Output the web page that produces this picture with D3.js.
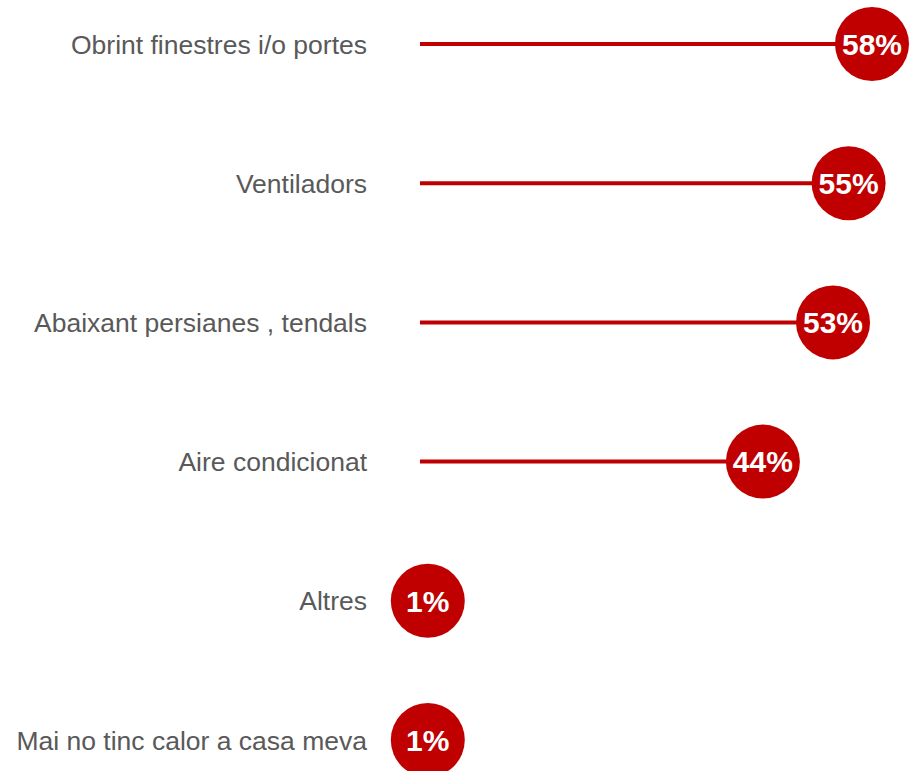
<!DOCTYPE html>
<html><head><meta charset="utf-8">
<script src="https://cdn.jsdelivr.net/npm/d3@7"></script>
<style>body{margin:0;background:#fff}svg{display:block}</style>
</head><body>
<svg id="c" width="912" height="771"></svg>
<script>
const categories = ["Obrint finestres i/o portes","Ventiladors","Abaixant persianes , tendals","Aire condicionat","Altres","Mai no tinc calor a casa meva"];
const values = [58,55,53,44,1,1];

const svg = d3.select("#c");
const x = d3.scaleLinear().domain([0,58]).range([420,872]);
const y = d3.scalePoint().domain(categories).range([44,740]);
const red = "#c00000";

svg.selectAll("line.stem").data(values).join("line")
  .attr("class","stem")
  .attr("x1",x(0)).attr("x2",d=>x(d))
  .attr("y1",(d,i)=>y(categories[i])).attr("y2",(d,i)=>y(categories[i]))
  .attr("stroke",red).attr("stroke-width",4);

svg.selectAll("circle").data(values).join("circle")
  .attr("cx",d=>x(d)).attr("cy",(d,i)=>y(categories[i])).attr("r",37)
  .attr("fill",red);

svg.selectAll("text.val").data(values).join("text")
  .attr("class","val")
  .attr("x",d=>x(d)).attr("y",(d,i)=>y(categories[i]))
  .attr("dy","0.36em").attr("text-anchor","middle")
  .attr("fill","#fff").attr("font-family","Liberation Sans, Arial, sans-serif")
  .attr("font-weight","bold").attr("font-size",30)
  .text(d=>d+"%");

svg.selectAll("text.lab").data(categories).join("text")
  .attr("class","lab")
  .attr("x",367).attr("y",d=>y(d))
  .attr("dy","0.36em").attr("text-anchor","end")
  .attr("fill","#595959").attr("font-family","Liberation Sans, Arial, sans-serif")
  .attr("font-size",26.5)
  .text(d=>d);
</script>
</body></html>
